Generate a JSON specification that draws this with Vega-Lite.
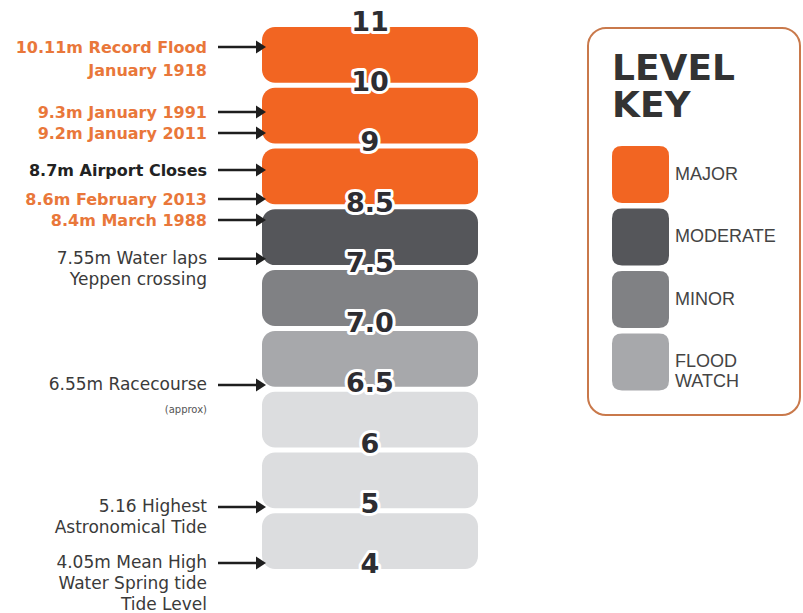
{
  "$schema": "https://vega.github.io/schema/vega-lite/v6.json",
  "width": 216,
  "height": 542,
  "autosize": {"type": "none"},
  "padding": {"left": 262, "top": 27, "right": 325, "bottom": 44},
  "background": "white",
  "config": {
    "view": {"stroke": null},
    "legend": {"strokeWidth": 2}
  },
  "datasets": {
    "blocks": [
      {"block": "11 to 10", "level": "MAJOR"},
      {"block": "10 to 9", "level": "MAJOR"},
      {"block": "9 to 8.5", "level": "MAJOR"},
      {"block": "8.5 to 7.5", "level": "MODERATE"},
      {"block": "7.5 to 7.0", "level": "MINOR"},
      {"block": "7.0 to 6.5", "level": "FLOOD WATCH"},
      {"block": "6.5 to 6", "level": "BELOW"},
      {"block": "6 to 5", "level": "BELOW"},
      {"block": "5 to 4", "level": "BELOW"}
    ],
    "levels": [
      {"level": "11", "pos": 0},
      {"level": "10", "pos": 1},
      {"level": "9", "pos": 2},
      {"level": "8.5", "pos": 3},
      {"level": "7.5", "pos": 4},
      {"level": "7.0", "pos": 5},
      {"level": "6.5", "pos": 6},
      {"level": "6", "pos": 7},
      {"level": "5", "pos": 8},
      {"level": "4", "pos": 9}
    ],
    "notes": [
      {"note": "10.11m Record Flood\nJanuary 1918", "pos": 0.332, "kind": "record", "arrow": true},
      {"note": "9.3m January 1991", "pos": 1.41, "kind": "record", "arrow": true},
      {"note": "9.2m January 2011", "pos": 1.76, "kind": "record", "arrow": true},
      {"note": "8.7m Airport Closes", "pos": 2.375, "kind": "event", "arrow": true},
      {"note": "8.6m February 2013", "pos": 2.856, "kind": "record", "arrow": true},
      {"note": "8.4m March 1988", "pos": 3.205, "kind": "record", "arrow": true},
      {"note": "7.55m Water laps\nYeppen crossing", "pos": 3.85, "kind": "info", "arrow": true},
      {"note": "6.55m Racecourse", "pos": 5.945, "kind": "info", "arrow": true},
      {"note": "(approx)", "pos": 6.36, "kind": "small", "arrow": false},
      {"note": "5.16 Highest\nAstronomical Tide", "pos": 7.97, "kind": "info", "arrow": true},
      {"note": "4.05m Mean High\nWater Spring tide\nTide Level", "pos": 8.9, "kind": "info", "arrow": true}
    ]
  },
  "resolve": {"scale": {"y": "independent"}},
  "layer": [
    {
      "data": {"name": "blocks"},
      "mark": {"type": "rect", "cornerRadius": 13},
      "encoding": {
        "y": {"field": "block", "type": "ordinal", "sort": null, "axis": null,
              "scale": {"paddingInner": 0.082, "paddingOuter": 0}},
        "x": {"datum": 0, "type": "quantitative", "axis": null,
              "scale": {"domain": [0, 1], "nice": false, "zero": false}},
        "x2": {"datum": 1},
        "fill": {
          "field": "level", "type": "nominal",
          "scale": {
            "domain": ["MAJOR", "MODERATE", "MINOR", "FLOOD WATCH", "BELOW"],
            "range": ["#f26522", "#55565a", "#808184", "#a7a8ab", "#dcdddf"]
          },
          "legend": {
            "title": ["LEVEL", "KEY"],
            "orient": "none",
            "legendX": 326,
            "legendY": 1,
            "values": ["MAJOR", "MODERATE", "MINOR", "FLOOD WATCH"],
            "symbolType": "M -0.65 -1 L 0.65 -1 Q 1 -1 1 -0.65 L 1 0.65 Q 1 1 0.65 1 L -0.65 1 Q -1 1 -1 0.65 L -1 -0.65 Q -1 -1 -0.65 -1 Z",
            "symbolSize": 3249,
            "symbolStrokeWidth": 0,
            "symbolOpacity": 1,
            "labelFont": "Liberation Sans",
            "labelFontSize": 18,
            "labelColor": "#444444",
            "labelOffset": 6,
            "labelLimit": 200,
            "labelExpr": "datum.label == 'FLOOD WATCH' ? ['FLOOD', 'WATCH'] : datum.label",
            "rowPadding": 5.5,
            "padding": 24,
            "strokeColor": "#c9794b",
            "cornerRadius": 18,
            "titleFont": "DejaVu Sans",
            "titleFontSize": 36,
            "titleFontWeight": "bold",
            "titleColor": "#333333",
            "titleLineHeight": 37,
            "titlePadding": 21,
            "titleAnchor": "start",
            "titleLimit": 300
          }
        }
      }
    },
    {
      "layer": [
        {
          "data": {"name": "levels"},
          "mark": {"type": "text", "font": "DejaVu Sans", "fontSize": 27, "fontWeight": "bold",
                   "fill": "white", "stroke": "white", "strokeWidth": 6, "strokeJoin": "round",
                   "baseline": "middle", "align": "center", "dy": -4},
          "encoding": {
            "y": {"field": "pos", "type": "quantitative", "axis": null,
                  "scale": {"domain": [0, 9], "reverse": true, "nice": false, "zero": false}},
            "x": {"datum": 0.5, "type": "quantitative"},
            "text": {"field": "level"}
          }
        },
        {
          "data": {"name": "levels"},
          "mark": {"type": "text", "font": "DejaVu Sans", "fontSize": 27, "fontWeight": "bold",
                   "fill": "#2d2d32", "baseline": "middle", "align": "center", "dy": -4},
          "encoding": {
            "y": {"field": "pos", "type": "quantitative", "axis": null},
            "x": {"datum": 0.5, "type": "quantitative"},
            "text": {"field": "level"}
          }
        },
        {
          "data": {"name": "notes"},
          "transform": [{"filter": "datum.arrow"}],
          "mark": {"type": "rule", "strokeWidth": 2.5, "color": "#1e1e1e"},
          "encoding": {
            "y": {"field": "pos", "type": "quantitative", "axis": null},
            "x": {"datum": -0.2037, "type": "quantitative"},
            "x2": {"datum": -0.023}
          }
        },
        {
          "data": {"name": "notes"},
          "transform": [{"filter": "datum.arrow"}],
          "mark": {"type": "point", "shape": "M -0.77 -1 L 0.77 0 L -0.77 1 Z", "filled": true,
                   "size": 169, "color": "#1e1e1e", "opacity": 1},
          "encoding": {
            "y": {"field": "pos", "type": "quantitative", "axis": null},
            "x": {"datum": -0.0046, "type": "quantitative"}
          }
        },
        {
          "data": {"name": "notes"},
          "transform": [{"filter": "datum.kind == 'record'"}],
          "mark": {"type": "text", "font": "DejaVu Sans", "fontSize": 16, "fontWeight": "bold",
                   "fill": "#e9773a", "align": "right", "baseline": "top", "dy": -7,
                   "lineBreak": "\n", "lineHeight": 23},
          "encoding": {
            "y": {"field": "pos", "type": "quantitative", "axis": null},
            "x": {"datum": -0.2546, "type": "quantitative"},
            "text": {"field": "note"}
          }
        },
        {
          "data": {"name": "notes"},
          "transform": [{"filter": "datum.kind == 'event'"}],
          "mark": {"type": "text", "font": "DejaVu Sans", "fontSize": 16, "fontWeight": "bold",
                   "fill": "#222222", "align": "right", "baseline": "top", "dy": -7,
                   "lineBreak": "\n", "lineHeight": 23},
          "encoding": {
            "y": {"field": "pos", "type": "quantitative", "axis": null},
            "x": {"datum": -0.2546, "type": "quantitative"},
            "text": {"field": "note"}
          }
        },
        {
          "data": {"name": "notes"},
          "transform": [{"filter": "datum.kind == 'info'"}],
          "mark": {"type": "text", "font": "DejaVu Sans", "fontSize": 17,
                   "fill": "#3a3a3a", "align": "right", "baseline": "top", "dy": -8,
                   "lineBreak": "\n", "lineHeight": 21},
          "encoding": {
            "y": {"field": "pos", "type": "quantitative", "axis": null},
            "x": {"datum": -0.2546, "type": "quantitative"},
            "text": {"field": "note"}
          }
        },
        {
          "data": {"name": "notes"},
          "transform": [{"filter": "datum.kind == 'small'"}],
          "mark": {"type": "text", "font": "DejaVu Sans", "fontSize": 10,
                   "fill": "#555555", "align": "right", "baseline": "middle"},
          "encoding": {
            "y": {"field": "pos", "type": "quantitative", "axis": null},
            "x": {"datum": -0.2546, "type": "quantitative"},
            "text": {"field": "note"}
          }
        }
      ]
    }
  ]
}
